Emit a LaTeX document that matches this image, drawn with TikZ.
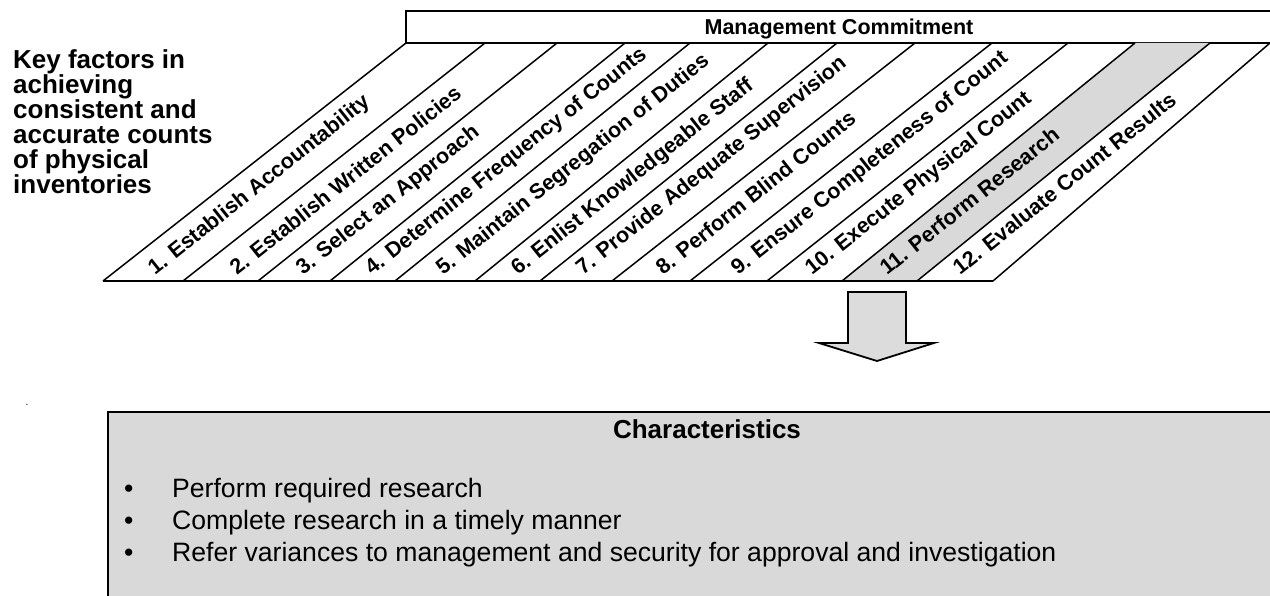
\documentclass[tikz,border=0pt]{standalone}
\usepackage{fontspec}
\setmainfont{Liberation Sans}
\definecolor{stripgray}{HTML}{D9D9D9}
\definecolor{arrowgray}{HTML}{DCDCDC}
\begin{document}
\begin{tikzpicture}
  [x=1pt,y=-1pt,line join=miter,
   every node/.style={inner sep=0pt},
   label font/.style={font=\bfseries\fontsize{21.5}{21.5}\selectfont},
   strip/.style={draw,line width=1.5pt},
   body/.style={font=\fontsize{26.6}{32}\selectfont,anchor=base west}]
  \useasboundingbox (0,0) rectangle (1270,596);

  % management commitment bar
  \draw[line width=1.5pt] (1280,11) -- (406,11) -- (406,43) -- (1280,43);
  \node[label font] (M) at (839,29) {Management Commitment};

  % the twelve slanted strips
  \foreach \bl/\br/\tl/\tr/\lx/\txt [count=\i] in
    {103/183/406/485/155/1. Establish Accountability,
     183/258/485/557/237/2. Establish Written Policies,
     258/330/557/625/303/3. Select an Approach,
     330/395/625/690/372/4. Determine Frequency of Counts,
     395/475/690/768/443/5. Maintain Segregation of Duties,
     475/540/768/837/518/6. Enlist Knowledgeable Staff,
     540/612/837/915/583/7. Provide Adequate Supervision,
     612/690/915/992/663/8. Perform Blind Counts,
     690/767/992/1068/738/9. Ensure Completeness of Count,
     767/842/1068/1135/812/10. Execute Physical Count,
     842/917/1135/1210/887/11. Perform Research,
     917/993/1210/1270/960/12. Evaluate Count Results}
  {
    \ifnum\i=11
      \fill[stripgray] (\bl,281) -- (\tl,43) -- (\tr,43) -- (\br,281) -- cycle;
    \fi
    \draw[strip] (\bl,281) -- (\tl,43);
    \node[label font,rotate=38.5,anchor=base west] (S\i) at (\lx,276) {\txt};
  }
  \draw[strip] (993,281) -- (1270,43);
  \draw[strip] (103,281) -- (993,281);

  \node[font=\bfseries\fontsize{26}{25}\selectfont,align=left,anchor=north west]
    (K) at (13,49) {Key factors in\\achieving\\consistent and\\accurate counts\\of physical\\inventories};

  % block arrow
  \draw[line width=1.8pt,fill=arrowgray] (848,292) -- (906,292) -- (906,343) -- (934,343)
    -- (877,361) -- (819,343) -- (848,343) -- cycle;

  \node[font=\fontsize{10}{10}\selectfont] (dot) at (27,405) {.};

  % characteristics box
  \draw[line width=2.5pt,fill=stripgray] (108,412) rectangle (1290,620);
  \node[font=\bfseries\fontsize{26}{26}\selectfont,anchor=base] (C) at (707,438) {Characteristics};
  \foreach \txt [count=\i] in
    {Perform required research,
     Complete research in a timely manner,
     Refer variances to management and security for approval and investigation}
  {
    \node[body] (B\i) at (124,465+32*\i) {•};
    \node[body] (T\i) at (172,465+32*\i) {\txt};
  }
\end{tikzpicture}
\end{document}
